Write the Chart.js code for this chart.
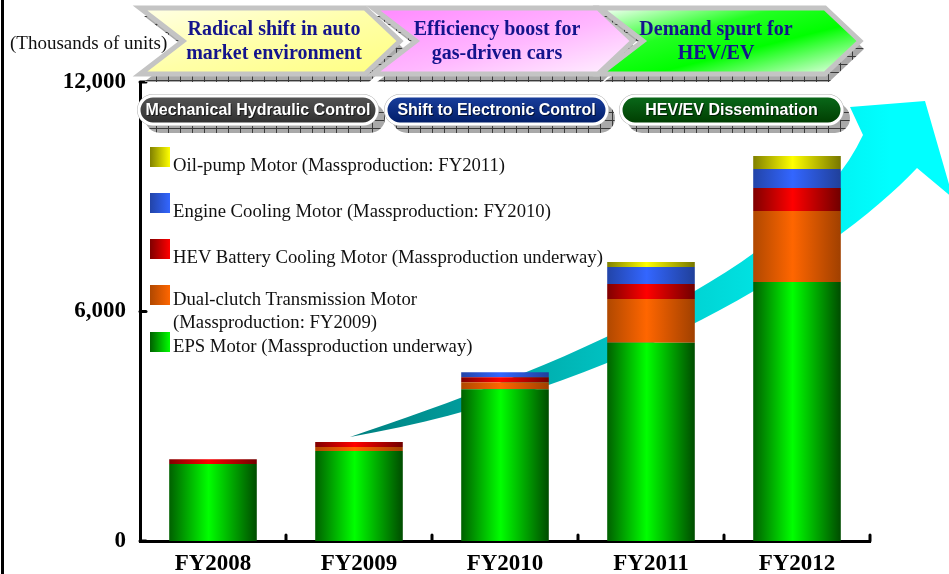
<!DOCTYPE html>
<html>
<head>
<meta charset="utf-8">
<title>Motor production outlook</title>
<script src="https://cdn.jsdelivr.net/npm/chart.js@4.4.0/dist/chart.umd.min.js"></script>
<style>
  html, body { margin: 0; padding: 0; background: #fff; }
  #wrap { position: relative; width: 949px; height: 574px; overflow: hidden; }
  #chart { position: absolute; left: 0; top: 0; }
  #frame { position: absolute; left: 1px; top: 0; width: 3px; height: 574px; background: #000; }
  #deco { position: absolute; left: 0; top: 0; }
  #legend { position: absolute; left: 0; top: 0; font-family: "Liberation Serif", "Times New Roman", serif; font-size: 18.7px; color: #111; }
  .row { position: absolute; left: 150px; }
  .sw { position: absolute; left: 0; top: 0; width: 20px; height: 20px; }
  .lbl { position: absolute; left: 23px; white-space: pre; line-height: 23px; }
</style>
</head>
<body>
<div id="wrap">
  <canvas id="chart" width="949" height="574"></canvas>
  <div id="frame"></div>
  <svg id="deco" width="949" height="140"></svg>
  <div id="legend"></div>
</div>
<script>
// chart data (thousands of units)
const categories = ["FY2008", "FY2009", "FY2010", "FY2011", "FY2012"];
const epsMotor      = [2010, 2350, 3970, 5180, 6770];
const dualClutch    = [0, 105, 183, 1150, 1856];
const hevBattery    = [130, 130, 130, 392, 601];
const engineCooling = [0, 0, 130, 444, 497];
const oilPump       = [0, 0, 0, 130, 340];
const yTicks = [0, 6000, 12000];

const seriesNames = [
  "EPS Motor (Massproduction underway)",
  "Dual-clutch Transmission Motor\n(Massproduction: FY2009)",
  "HEV Battery Cooling Motor (Massproduction underway)",
  "Engine Cooling Motor (Massproduction: FY2010)",
  "Oil-pump Motor (Massproduction: FY2011)"
];
const unitLabel = "(Thousands of units)";
const phaseTitles = [
  ["Radical shift in auto", "market environment"],
  ["Efficiency boost for", "gas-driven cars"],
  ["Demand spurt for", "HEV/EV"]
];
const controlStages = ["Mechanical Hydraulic Control", "Shift to Electronic Control", "HEV/EV Dissemination"];

// colours: [edge, centre, other edge]
const seriesColors = [
  ["#006000", "#00ff00", "#004c00"],
  ["#b04800", "#ff6600", "#a04000"],
  ["#800000", "#ff0000", "#700000"],
  ["#2244a8", "#3366ff", "#20409a"],
  ["#808000", "#ffff00", "#767600"]
];

const barShare = 0.6;

// cylinder-like fill across each bar
function barFill(cols) {
  return (ctx) => {
    const chart = ctx.chart;
    const xs = chart.scales.x;
    if (!xs || !chart.chartArea) return cols[1];
    const cx = xs.getPixelForValue(ctx.dataIndex);
    const w = xs.width / categories.length * barShare;
    const g = chart.ctx.createLinearGradient(cx - w / 2, 0, cx + w / 2, 0);
    g.addColorStop(0, cols[0]);
    g.addColorStop(0.45, cols[1]);
    g.addColorStop(1, cols[2]);
    return g;
  };
}

const values = [epsMotor, dualClutch, hevBattery, engineCooling, oilPump];
const datasets = values.map((v, i) => ({
  label: seriesNames[i],
  data: v,
  backgroundColor: barFill(seriesColors[i]),
  borderWidth: 0,
  barPercentage: barShare,
  categoryPercentage: 1
}));

// the big growth arrow behind the bars, and the inner axis ticks
const decoPlugin = {
  id: "deco",
  beforeDatasetsDraw(chart) {
    const c = chart.ctx;
    const g = c.createLinearGradient(350, 0, 890, 0);
    g.addColorStop(0, "#007f7f");
    g.addColorStop(0.5, "#00c4c4");
    g.addColorStop(1, "#00ffff");
    c.save();
    c.beginPath();
    c.moveTo(350, 437);
    c.bezierCurveTo(550, 370, 800, 270, 863, 135);
    c.lineTo(850, 107);
    c.lineTo(925, 101);
    c.lineTo(953, 198);
    c.lineTo(917, 168);
    c.bezierCurveTo(830, 260, 620, 390, 350, 437);
    c.closePath();
    c.fillStyle = g;
    c.fill();
    c.restore();
  },
  afterDraw(chart) {
    const c = chart.ctx;
    const xs = chart.scales.x, ys = chart.scales.y;
    const area = chart.chartArea;
    c.save();
    c.strokeStyle = "#000";
    c.lineWidth = 3;
    c.lineCap = "round";
    const step = xs.width / categories.length;
    for (let i = 1; i <= categories.length; i++) {
      const px = area.left + i * step;
      c.beginPath();
      c.moveTo(px, area.bottom - 6);
      c.lineTo(px, area.bottom);
      c.stroke();
    }
    yTicks.forEach(v => {
      const py = ys.getPixelForValue(v);
      c.beginPath();
      c.moveTo(area.left, py);
      c.lineTo(area.left + 6, py);
      c.stroke();
    });
    c.restore();
  }
};

new Chart(document.getElementById("chart"), {
  type: "bar",
  data: { labels: categories, datasets },
  options: {
    responsive: false,
    animation: false,
    devicePixelRatio: 1,
    layout: { padding: { top: 82, right: 79, left: 0, bottom: 0 } },
    plugins: { legend: { display: false }, tooltip: { enabled: false } },
    scales: {
      x: {
        stacked: true,
        grid: { display: false, drawTicks: false },
        border: { display: true, color: "#000", width: 3 },
        ticks: {
          color: "#000",
          padding: 9,
          font: { family: "'Liberation Serif', 'Times New Roman', serif", size: 23, weight: "bold" }
        },
        afterFit: (s) => { s.height = 33; }
      },
      y: {
        stacked: true,
        min: 0,
        max: 12000,
        afterBuildTicks: (s) => { s.ticks = yTicks.map(v => ({ value: v })); },
        grid: { display: false, drawTicks: false },
        border: { display: true, color: "#000", width: 3 },
        ticks: {
          color: "#000",
          padding: 14,
          font: { family: "'Liberation Serif', 'Times New Roman', serif", size: 23, weight: "bold" },
          callback: (v) => Number(v).toLocaleString("en-US")
        },
        afterFit: (s) => { s.width = 140; }
      }
    }
  },
  plugins: [decoPlugin]
});

// banners across the top
const chevLeft = [140, 373, 600];
const chevText = [274, 497, 716];
const pillSpan = [[138, 378], [385, 608], [620, 843]];
const pillFill = ["url(#pGray)", "url(#pBlue)", "url(#pGreen)"];
const chevFill = ["url(#cYellow)", "url(#cPink)", "url(#cGreen)"];

function chevPoints(x, dx, dy) {
  const t = 8 + dy, b = 74 + dy, m = 41 + dy;
  return [[x + dx, t], [x + 225 + dx, t], [x + 260 + dx, m], [x + 225 + dx, b], [x + dx, b], [x + 43 + dx, m]]
    .map(p => p.join(",")).join(" ");
}

let svg = `
<defs>
  <pattern id="hatch" width="12" height="8" patternUnits="userSpaceOnUse">
    <rect width="12" height="8" fill="#a9a9a9"/>
    <path d="M0 0.5H12M0.5 0V8" stroke="#3a3a3a" stroke-width="1"/>
  </pattern>
  <linearGradient id="cYellow" x1="0" y1="0" x2="1" y2="1">
    <stop offset="0" stop-color="#ffffe6"/><stop offset="0.5" stop-color="#ffffa8"/><stop offset="1" stop-color="#ffff80"/>
  </linearGradient>
  <linearGradient id="cPink" x1="0" y1="0" x2="1" y2="1">
    <stop offset="0" stop-color="#ff88ff"/><stop offset="0.55" stop-color="#ffb8ff"/><stop offset="1" stop-color="#fff4ff"/>
  </linearGradient>
  <linearGradient id="cGreen" x1="0" y1="0" x2="1" y2="1">
    <stop offset="0" stop-color="#ffffff"/><stop offset="0.35" stop-color="#22ff22"/><stop offset="0.6" stop-color="#00ff00"/><stop offset="1" stop-color="#ffffff"/>
  </linearGradient>
  <linearGradient id="pGray" x1="0" y1="0" x2="0" y2="1">
    <stop offset="0" stop-color="#555"/><stop offset="1" stop-color="#2e2e2e"/>
  </linearGradient>
  <linearGradient id="pBlue" x1="0" y1="0" x2="0" y2="1">
    <stop offset="0" stop-color="#1a3f9e"/><stop offset="1" stop-color="#001c66"/>
  </linearGradient>
  <linearGradient id="pGreen" x1="0" y1="0" x2="0" y2="1">
    <stop offset="0" stop-color="#0a6a1a"/><stop offset="1" stop-color="#003c00"/>
  </linearGradient>
</defs>
<text x="10" y="49" font-family="Liberation Serif, Times New Roman, serif" font-size="19" fill="#111">${unitLabel}</text>`;

chevLeft.forEach((x, i) => {
  svg += `<polygon points="${chevPoints(x, 4, 8)}" fill="url(#hatch)"/>`;
  svg += `<polygon points="${chevPoints(x, 0, 0)}" fill="${chevFill[i]}" stroke="#c4c4c4" stroke-width="5" stroke-linejoin="miter"/>`;
  phaseTitles[i].forEach((line, j) => {
    svg += `<text x="${chevText[i]}" y="${35 + j * 24}" text-anchor="middle" font-family="Liberation Serif, Times New Roman, serif" font-weight="bold" font-size="20" fill="#14148c">${line}</text>`;
  });
});

pillSpan.forEach(([a, b], i) => {
  const w = b - a;
  svg += `<rect x="${a + 7}" y="103" width="${w}" height="30" rx="15" fill="url(#hatch)"/>`;
  svg += `<rect x="${a - 1}" y="94" width="${w + 2}" height="32" rx="16" fill="#b0b0b0"/>`;
  svg += `<rect x="${a + 1}" y="96" width="${w - 2}" height="28" rx="14" fill="${pillFill[i]}" stroke="#fff" stroke-width="3"/>`;
  const cx = a + w / 2;
  svg += `<text x="${cx + 1}" y="116" text-anchor="middle" font-family="Liberation Sans, Arial, sans-serif" font-weight="bold" font-size="16" fill="#000" opacity="0.6">${controlStages[i]}</text>`;
  svg += `<text x="${cx}" y="115" text-anchor="middle" font-family="Liberation Sans, Arial, sans-serif" font-weight="bold" font-size="16" fill="#fff">${controlStages[i]}</text>`;
});
document.getElementById("deco").innerHTML = svg;

// legend inside the plot, top series first
const legendRowTop = [147, 193, 239, 285, 332];
const legendTextDrop = [5.5, 5.5, 5.5, 2, 2];
const legend = document.getElementById("legend");
for (let k = 0; k < seriesNames.length; k++) {
  const i = seriesNames.length - 1 - k;
  const cols = seriesColors[i];
  const row = document.createElement("div");
  row.className = "row";
  row.style.top = legendRowTop[k] + "px";
  const sw = document.createElement("div");
  sw.className = "sw";
  sw.style.background = `linear-gradient(to right, ${cols[0]}, ${cols[1]})`;
  const lbl = document.createElement("div");
  lbl.className = "lbl";
  lbl.style.top = legendTextDrop[k] + "px";
  lbl.textContent = seriesNames[i];
  row.appendChild(sw);
  row.appendChild(lbl);
  legend.appendChild(row);
}
</script>
</body>
</html>
